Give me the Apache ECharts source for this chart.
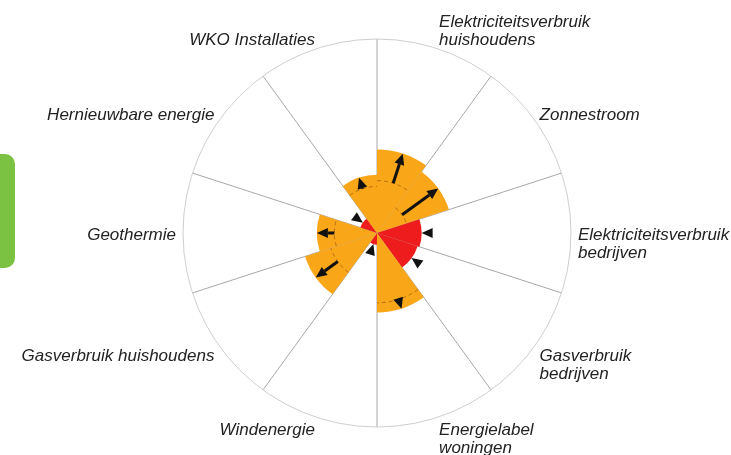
<!DOCTYPE html>
<html>
<head>
<meta charset="utf-8">
<script src="https://cdn.jsdelivr.net/npm/echarts@6/dist/echarts.min.js"></script>
<style>
html,body{margin:0;padding:0;background:#fff;}
#chart{width:731px;height:455px;}
</style>
</head>
<body>
<div id="chart"></div>
<script>
// indicatoren, met de klok mee vanaf boven
const categories = [
    'Elektriciteitsverbruik\nhuishoudens',
    'Zonnestroom',
    'Elektriciteitsverbruik\nbedrijven',
    'Gasverbruik\nbedrijven',
    'Energielabel\nwoningen',
    'Windenergie',
    'Gasverbruik huishoudens',
    'Geothermie',
    'Hernieuwbare energie',
    'WKO Installaties'
];
const currentValues = [43, 39, 23, 22, 41, 6, 39, 31, 9, 30];
const previousValues = [27, 16, 28, 25.5, 36, 9.5, 25, 22, 12.5, 24];
const statusValues = ['oranje', 'oranje', 'rood', 'rood', 'oranje', 'rood', 'oranje', 'oranje', 'rood', 'oranje'];

const statusColor = {oranje: '#faa619', rood: '#ee1c1c'};
const labelFont = 'Liberation Sans';
const labelSize = 17;
const labelLine = 18;
const labelGap = 7;

var myChart = echarts.init(document.getElementById('chart'));

const barData = currentValues.map((v, i) => ({
    value: v,
    itemStyle: {color: statusColor[statusValues[i]]}
}));

function renderTrend(params, api) {
    const i = params.dataIndex;
    const cs = params.coordSys;
    const cx = cs.cx, cy = cs.cy;
    const from = api.coord([previousValues[i], i]);
    const to = api.coord([currentValues[i], i]);
    const ang = Math.atan2(to[1] - cy, to[0] - cx);
    const half = Math.PI / 10;
    const children = [];
    if (previousValues[i] < currentValues[i]) {
        const rPrev = Math.hypot(from[0] - cx, from[1] - cy);
        children.push({
            type: 'arc',
            shape: {cx: cx, cy: cy, r: rPrev, startAngle: ang - half, endAngle: ang + half, clockwise: true},
            style: {stroke: 'rgba(110,60,0,0.5)', lineWidth: 1, lineDash: [4, 3], fill: null}
        });
    }
    const dx = to[0] - from[0], dy = to[1] - from[1];
    const len = Math.hypot(dx, dy);
    const ux = dx / len, uy = dy / len;
    const head = 11, w = 10;
    const bx = to[0] - ux * head, by = to[1] - uy * head;
    if (len > head) {
        children.push({
            type: 'line',
            shape: {x1: from[0], y1: from[1], x2: bx, y2: by},
            style: {stroke: '#111', lineWidth: 3}
        });
    }
    children.push({
        type: 'polygon',
        shape: {points: [[to[0], to[1]], [bx - uy * w / 2, by + ux * w / 2], [bx + uy * w / 2, by - ux * w / 2]]},
        style: {fill: '#111'}
    });
    return {type: 'group', children: children};
}

// labels buiten de cirkel, uitgelijnd zoals in het origineel
function renderLabel(params, api) {
    const i = params.dataIndex;
    const cs = params.coordSys;
    const edge = api.coord([100, i]);
    const ex = edge[0] - cs.cx, ey = edge[1] - cs.cy;
    const k = (cs.r + labelGap) / cs.r;
    const px = cs.cx + ex * k;
    const py = cs.cy + ey * k;
    const rel = ey / cs.r;
    const text = categories[i];
    const twoLines = text.indexOf('\n') >= 0;
    let vAlign = 'middle', y = py;
    if (twoLines) {
        if (rel < -0.01) { vAlign = 'bottom'; y = py + labelLine / 2; }
        else { vAlign = 'top'; y = py - labelLine / 2; }
    }
    y += 2.5 + 4 * rel;
    return {
        type: 'text',
        x: px,
        y: y,
        style: {
            text: text,
            fontFamily: labelFont,
            fontStyle: 'italic',
            fontSize: labelSize,
            lineHeight: labelLine,
            fill: '#222',
            align: ex > 0 ? 'left' : 'right',
            verticalAlign: vAlign
        }
    };
}

var option = {
    backgroundColor: '#fff',
    animation: false,
    graphic: [{
        type: 'rect',
        shape: {x: -20, y: 154, width: 35, height: 114, r: 10},
        style: {fill: '#7cc242'}
    }],
    polar: {
        center: [377, 233],
        radius: 194
    },
    angleAxis: {
        type: 'category',
        data: categories,
        startAngle: 90,
        clockwise: true,
        axisLine: {lineStyle: {color: '#cfcfcf', width: 1}},
        axisTick: {show: false},
        axisLabel: {show: false},
        splitLine: {show: true, lineStyle: {color: '#a8a8a8', width: 1}}
    },
    radiusAxis: {
        min: 0,
        max: 100,
        show: false,
        splitLine: {show: false}
    },
    series: [{
        type: 'bar',
        coordinateSystem: 'polar',
        data: barData,
        barCategoryGap: '0%',
        z: 2
    }, {
        type: 'custom',
        coordinateSystem: 'polar',
        data: previousValues.map((v, i) => [v, i]),
        renderItem: renderTrend,
        z: 3
    }, {
        type: 'custom',
        coordinateSystem: 'polar',
        data: categories.map((c, i) => [100, i]),
        renderItem: renderLabel,
        silent: true,
        z: 4
    }]
};
myChart.setOption(option);
</script>
</body>
</html>
